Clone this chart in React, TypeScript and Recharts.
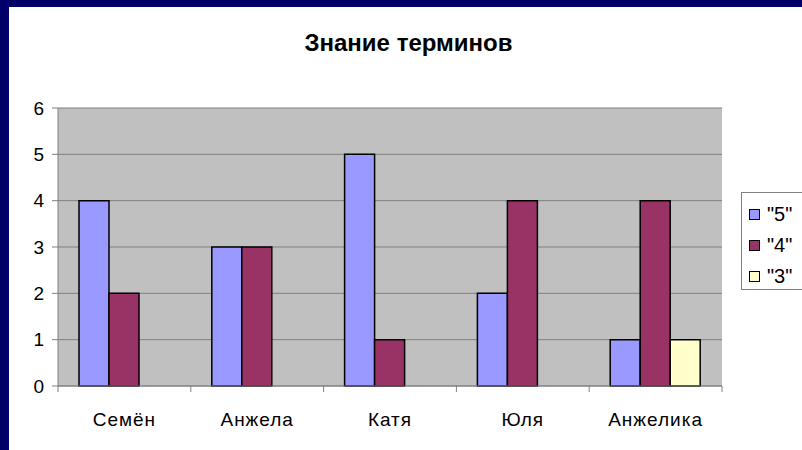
import { Bar, BarChart, CartesianGrid, XAxis, YAxis } from "recharts";

const students = ["Семён", "Анжела", "Катя", "Юля", "Анжелика"];
const grade5 = [4, 3, 5, 2, 1];
const grade4 = [2, 3, 1, 4, 4];
const grade3 = [0, 0, 0, 0, 1];
const yTicks = [0, 1, 2, 3, 4, 5, 6];

const SERIES = [
  { key: "g5", name: '"5"', color: "#9999FF" },
  { key: "g4", name: '"4"', color: "#993366" },
  { key: "g3", name: '"3"', color: "#FFFFCC" },
];

const data = students.map((name, i) => ({
  name,
  g5: grade5[i],
  g4: grade4[i],
  g3: grade3[i],
}));

const FONT = "'Liberation Sans', Arial, sans-serif";
const NAVY = "#000068";

function CategoryTick(props: any) {
  const { x, y, payload, index } = props;
  const half = payload?.offset || 66.4;
  return (
    <g>
      <line x1={x - half} x2={x - half} y1={y} y2={y + 6} stroke="#808080" />
      {index === students.length - 1 && (
        <line x1={x + half} x2={x + half} y1={y} y2={y + 6} stroke="#808080" />
      )}
      <text
        x={x}
        y={y + 40}
        textAnchor="middle"
        fontSize={19}
        letterSpacing={1}
        fontFamily={FONT}
        fill="#000"
      >
        {payload.value}
      </text>
    </g>
  );
}

export default function App() {
  return (
    <div
      style={{
        position: "fixed",
        left: 0,
        top: 0,
        width: 802,
        height: 450,
        background: "#fff",
        fontFamily: FONT,
        overflow: "hidden",
      }}
    >
      <div style={{ position: "absolute", left: 0, top: 0, width: 9, height: 450, background: NAVY }} />
      <div style={{ position: "absolute", left: 0, top: 0, width: 802, height: 7, background: NAVY }} />
      <div
        style={{
          position: "absolute",
          left: 12,
          top: 28,
          width: 793,
          textAlign: "center",
          fontSize: 24,
          lineHeight: "30px",
          fontWeight: "bold",
          color: "#000",
        }}
      >
        Знание терминов
      </div>
      <div style={{ position: "absolute", left: 0, top: 0 }}>
        <BarChart
          width={802}
          height={450}
          data={data}
          margin={{ top: 108, right: 80, bottom: 0, left: 10 }}
          barCategoryGap={21}
          barGap={0}
        >
          <CartesianGrid fill="#C0C0C0" vertical={false} stroke="#808080" strokeWidth={1} />
          <XAxis
            dataKey="name"
            height={64}
            tickLine={false}
            tickSize={0}
            tickMargin={0}
            axisLine={{ stroke: "#808080" }}
            tick={<CategoryTick />}
            interval={0}
          />
          <YAxis
            width={48}
            domain={[0, 6]}
            ticks={yTicks}
            interval={0}
            tickSize={6}
            tickMargin={8}
            axisLine={{ stroke: "#808080" }}
            tickLine={{ stroke: "#808080" }}
            tick={{ fill: "#000", fontSize: 19, fontFamily: FONT }}
          />
          <YAxis
            yAxisId="right"
            orientation="right"
            width={0}
            tick={false}
            tickLine={false}
            axisLine={{ stroke: "#808080" }}
          />
          {SERIES.map((s) => (
            <Bar
              key={s.key}
              dataKey={s.key}
              name={s.name}
              fill={s.color}
              stroke="#000"
              strokeWidth={1.5}
              isAnimationActive={false}
            />
          ))}
        </BarChart>
      </div>
      <div
        style={{
          position: "absolute",
          left: 741,
          top: 192,
          width: 80,
          height: 96,
          border: "1px solid #808080",
          background: "#fff",
        }}
      >
        {SERIES.map((s, i) => (
          <div
            key={s.key}
            style={{
              position: "absolute",
              left: 7,
              top: 9 + i * 31,
              height: 24,
              display: "flex",
              alignItems: "center",
              fontSize: 20,
              color: "#000",
            }}
          >
            <span
              style={{
                display: "inline-block",
                width: 9,
                height: 9,
                background: s.color,
                border: "1px solid #000",
                marginRight: 7,
              }}
            />
            {s.name}
          </div>
        ))}
      </div>
    </div>
  );
}
